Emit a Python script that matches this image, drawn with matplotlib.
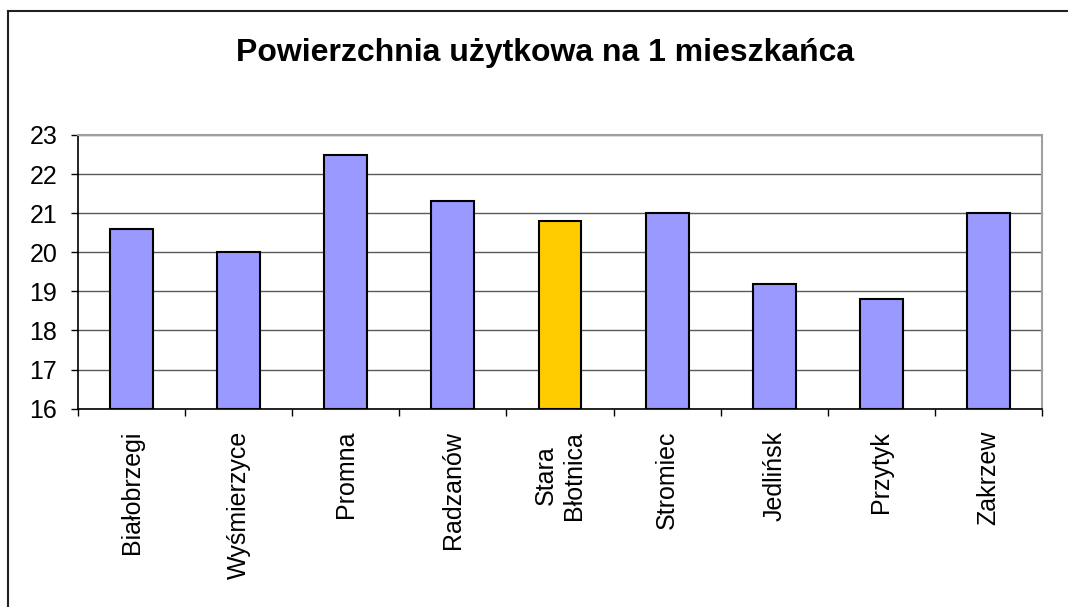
import matplotlib.pyplot as plt
from matplotlib.lines import Line2D
import numpy as np

# dane
gminy = ["Białobrzegi", "Wyśmierzyce", "Promna", "Radzanów", "Stara\nBłotnica",
         "Stromiec", "Jedlińsk", "Przytyk", "Zakrzew"]
powierzchnia = [20.6, 20.0, 22.5, 21.3, 20.8, 21.0, 19.2, 18.8, 21.0]
wyrozniona = "Stara\nBłotnica"

plt.rcParams['font.family'] = ['Liberation Sans', 'DejaVu Sans']

fig = plt.figure(figsize=(10.68, 6.07), dpi=100)
ax = fig.add_axes([0.0730, 0.3267, 0.9027, 0.4509])

x = np.arange(len(gminy))
kolory = ["#FFCC00" if g == wyrozniona else "#9999FF" for g in gminy]
ax.bar(x, [v - 16 for v in powierzchnia], bottom=16, width=0.4,
       color=kolory, edgecolor="black", linewidth=1.5, zorder=3)

ax.set_xlim(-0.5, len(gminy) - 0.5)
ax.set_ylim(16, 23)
ax.set_yticks(range(16, 24))
ax.yaxis.grid(True, color="#5a5a5a", linewidth=1.0, zorder=0)

ax.set_xticks(x)
ax.set_xticklabels(gminy, rotation=90, va="top", ha="center",
                   multialignment="center", fontsize=18, linespacing=1.25)
ax.set_xticks(np.arange(len(gminy) + 1) - 0.5, minor=True)
ax.tick_params(axis="x", which="major", length=0, pad=16)
ax.tick_params(axis="x", which="minor", length=5, width=1, color="black",
               direction="out")
ax.tick_params(axis="y", length=5, width=1, pad=10, labelsize=18)

for s in ["top", "right"]:
    ax.spines[s].set_color("#a0a0a0")
    ax.spines[s].set_linewidth(1.5)
for s in ["left", "bottom"]:
    ax.spines[s].set_color("black")
    ax.spines[s].set_linewidth(1.2)

fig.text(545 / 1068, 1 - 53 / 607, "Powierzchnia użytkowa na 1 mieszkańca",
         ha="center", va="center", fontsize=23, fontweight="bold")

# ramka wykresu
fig.add_artist(Line2D([8 / 1068, 8 / 1068], [0, 1 - 11 / 607],
                      transform=fig.transFigure, color="#202020", linewidth=1.5))
fig.add_artist(Line2D([8 / 1068, 1], [1 - 11 / 607, 1 - 11 / 607],
                      transform=fig.transFigure, color="#202020", linewidth=1.5))

fig.savefig("out.png", dpi=100)
